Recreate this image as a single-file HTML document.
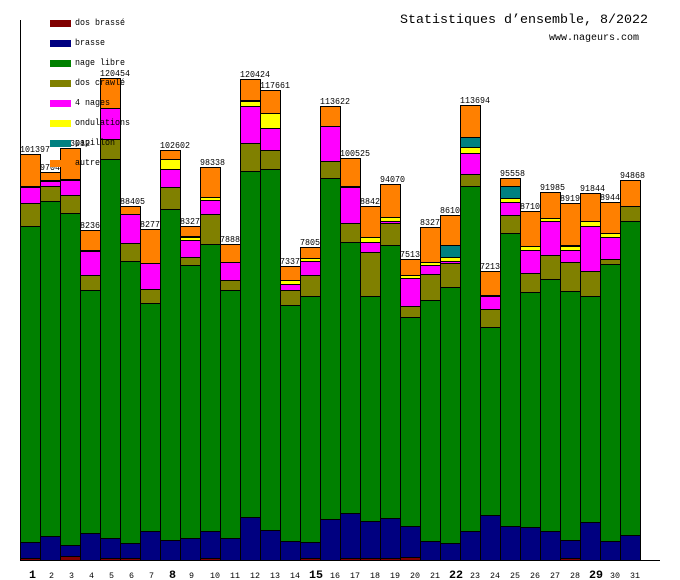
<!DOCTYPE html>
<html><head><meta charset="utf-8"><style>
html,body{margin:0;padding:0;background:#fff;}
svg{display:block;}
text{font-family:"Liberation Mono",monospace;fill:#000;}
</style></head><body>
<svg width="680" height="580" viewBox="0 0 680 580" xmlns="http://www.w3.org/2000/svg">
<rect width="680" height="580" fill="#fff"/>
<!-- title -->
<text x="400" y="23" font-size="13" textLength="248" lengthAdjust="spacingAndGlyphs">Statistiques d’ensemble, 8/2022</text>
<text x="549" y="40" font-size="10" textLength="90" lengthAdjust="spacingAndGlyphs">www.nageurs.com</text>
<!-- value labels (drawn below bars) -->
<g font-size="9" lengthAdjust="spacingAndGlyphs">
<text x="20" y="152" textLength="30" lengthAdjust="spacingAndGlyphs">101397</text>
<text x="40" y="170" textLength="25" lengthAdjust="spacingAndGlyphs">97040</text>
<text x="60" y="146" textLength="30" lengthAdjust="spacingAndGlyphs">103012</text>
<text x="80" y="228" textLength="25" lengthAdjust="spacingAndGlyphs">82360</text>
<text x="100" y="76" textLength="30" lengthAdjust="spacingAndGlyphs">120454</text>
<text x="120" y="204" textLength="25" lengthAdjust="spacingAndGlyphs">88405</text>
<text x="140" y="227" textLength="25" lengthAdjust="spacingAndGlyphs">82770</text>
<text x="160" y="148" textLength="30" lengthAdjust="spacingAndGlyphs">102602</text>
<text x="180" y="224" textLength="25" lengthAdjust="spacingAndGlyphs">83270</text>
<text x="200" y="165" textLength="25" lengthAdjust="spacingAndGlyphs">98338</text>
<text x="220" y="242" textLength="25" lengthAdjust="spacingAndGlyphs">78880</text>
<text x="240" y="77" textLength="30" lengthAdjust="spacingAndGlyphs">120424</text>
<text x="260" y="88" textLength="30" lengthAdjust="spacingAndGlyphs">117661</text>
<text x="280" y="264" textLength="25" lengthAdjust="spacingAndGlyphs">73370</text>
<text x="300" y="245" textLength="25" lengthAdjust="spacingAndGlyphs">78050</text>
<text x="320" y="104" textLength="30" lengthAdjust="spacingAndGlyphs">113622</text>
<text x="340" y="156" textLength="30" lengthAdjust="spacingAndGlyphs">100525</text>
<text x="360" y="204" textLength="25" lengthAdjust="spacingAndGlyphs">88420</text>
<text x="380" y="182" textLength="25" lengthAdjust="spacingAndGlyphs">94070</text>
<text x="400" y="257" textLength="25" lengthAdjust="spacingAndGlyphs">75130</text>
<text x="420" y="225" textLength="25" lengthAdjust="spacingAndGlyphs">83270</text>
<text x="440" y="213" textLength="25" lengthAdjust="spacingAndGlyphs">86100</text>
<text x="460" y="103" textLength="30" lengthAdjust="spacingAndGlyphs">113694</text>
<text x="480" y="269" textLength="25" lengthAdjust="spacingAndGlyphs">72130</text>
<text x="500" y="176" textLength="25" lengthAdjust="spacingAndGlyphs">95558</text>
<text x="520" y="209" textLength="25" lengthAdjust="spacingAndGlyphs">87100</text>
<text x="540" y="190" textLength="25" lengthAdjust="spacingAndGlyphs">91985</text>
<text x="560" y="201" textLength="25" lengthAdjust="spacingAndGlyphs">89190</text>
<text x="580" y="191" textLength="25" lengthAdjust="spacingAndGlyphs">91844</text>
<text x="600" y="200" textLength="25" lengthAdjust="spacingAndGlyphs">89440</text>
<text x="620" y="178" textLength="25" lengthAdjust="spacingAndGlyphs">94868</text>
</g>
<!-- bars -->
<g stroke="#000" stroke-width="1" shape-rendering="crispEdges">
<!-- 1 -->
<rect x="20.5" y="154.5" width="20" height="32" fill="#ff8000"/>
<rect x="20.5" y="186.5" width="20" height="1" fill="#ffff00"/>
<rect x="20.5" y="187.5" width="20" height="16" fill="#ff00ff"/>
<rect x="20.5" y="203.5" width="20" height="23" fill="#808000"/>
<rect x="20.5" y="226.5" width="20" height="316" fill="#008000"/>
<rect x="20.5" y="542.5" width="20" height="16" fill="#000080"/>
<rect x="20.5" y="558.5" width="20" height="2" fill="#800000"/>
<!-- 2 -->
<rect x="40.5" y="172.5" width="20" height="8" fill="#ff8000"/>
<rect x="40.5" y="180.5" width="20" height="1" fill="#ffff00"/>
<rect x="40.5" y="181.5" width="20" height="5" fill="#ff00ff"/>
<rect x="40.5" y="186.5" width="20" height="15" fill="#808000"/>
<rect x="40.5" y="201.5" width="20" height="335" fill="#008000"/>
<rect x="40.5" y="536.5" width="20" height="24" fill="#000080"/>
<!-- 3 -->
<rect x="60.5" y="148.5" width="20" height="31" fill="#ff8000"/>
<rect x="60.5" y="179.5" width="20" height="1" fill="#ffff00"/>
<rect x="60.5" y="180.5" width="20" height="15" fill="#ff00ff"/>
<rect x="60.5" y="195.5" width="20" height="18" fill="#808000"/>
<rect x="60.5" y="213.5" width="20" height="332" fill="#008000"/>
<rect x="60.5" y="545.5" width="20" height="11" fill="#000080"/>
<rect x="60.5" y="556.5" width="20" height="4" fill="#800000"/>
<!-- 4 -->
<rect x="80.5" y="230.5" width="20" height="20" fill="#ff8000"/>
<rect x="80.5" y="250.5" width="20" height="1" fill="#ffff00"/>
<rect x="80.5" y="251.5" width="20" height="24" fill="#ff00ff"/>
<rect x="80.5" y="275.5" width="20" height="15" fill="#808000"/>
<rect x="80.5" y="290.5" width="20" height="243" fill="#008000"/>
<rect x="80.5" y="533.5" width="20" height="27" fill="#000080"/>
<!-- 5 -->
<rect x="100.5" y="78.5" width="20" height="30" fill="#ff8000"/>
<rect x="100.5" y="108.5" width="20" height="31" fill="#ff00ff"/>
<rect x="100.5" y="139.5" width="20" height="20" fill="#808000"/>
<rect x="100.5" y="159.5" width="20" height="379" fill="#008000"/>
<rect x="100.5" y="538.5" width="20" height="20" fill="#000080"/>
<rect x="100.5" y="558.5" width="20" height="2" fill="#800000"/>
<!-- 6 -->
<rect x="120.5" y="206.5" width="20" height="8" fill="#ff8000"/>
<rect x="120.5" y="214.5" width="20" height="29" fill="#ff00ff"/>
<rect x="120.5" y="243.5" width="20" height="18" fill="#808000"/>
<rect x="120.5" y="261.5" width="20" height="282" fill="#008000"/>
<rect x="120.5" y="543.5" width="20" height="15" fill="#000080"/>
<rect x="120.5" y="558.5" width="20" height="2" fill="#800000"/>
<!-- 7 -->
<rect x="140.5" y="229.5" width="20" height="34" fill="#ff8000"/>
<rect x="140.5" y="263.5" width="20" height="26" fill="#ff00ff"/>
<rect x="140.5" y="289.5" width="20" height="14" fill="#808000"/>
<rect x="140.5" y="303.5" width="20" height="228" fill="#008000"/>
<rect x="140.5" y="531.5" width="20" height="29" fill="#000080"/>
<!-- 8 -->
<rect x="160.5" y="150.5" width="20" height="9" fill="#ff8000"/>
<rect x="160.5" y="159.5" width="20" height="10" fill="#ffff00"/>
<rect x="160.5" y="169.5" width="20" height="18" fill="#ff00ff"/>
<rect x="160.5" y="187.5" width="20" height="22" fill="#808000"/>
<rect x="160.5" y="209.5" width="20" height="331" fill="#008000"/>
<rect x="160.5" y="540.5" width="20" height="20" fill="#000080"/>
<!-- 9 -->
<rect x="180.5" y="226.5" width="20" height="10" fill="#ff8000"/>
<rect x="180.5" y="236.5" width="20" height="1" fill="#008080"/>
<rect x="180.5" y="237.5" width="20" height="3" fill="#ffff00"/>
<rect x="180.5" y="240.5" width="20" height="17" fill="#ff00ff"/>
<rect x="180.5" y="257.5" width="20" height="8" fill="#808000"/>
<rect x="180.5" y="265.5" width="20" height="273" fill="#008000"/>
<rect x="180.5" y="538.5" width="20" height="22" fill="#000080"/>
<!-- 10 -->
<rect x="200.5" y="167.5" width="20" height="30" fill="#ff8000"/>
<rect x="200.5" y="197.5" width="20" height="3" fill="#ffff00"/>
<rect x="200.5" y="200.5" width="20" height="14" fill="#ff00ff"/>
<rect x="200.5" y="214.5" width="20" height="30" fill="#808000"/>
<rect x="200.5" y="244.5" width="20" height="287" fill="#008000"/>
<rect x="200.5" y="531.5" width="20" height="27" fill="#000080"/>
<rect x="200.5" y="558.5" width="20" height="2" fill="#800000"/>
<!-- 11 -->
<rect x="220.5" y="244.5" width="20" height="18" fill="#ff8000"/>
<rect x="220.5" y="262.5" width="20" height="18" fill="#ff00ff"/>
<rect x="220.5" y="280.5" width="20" height="10" fill="#808000"/>
<rect x="220.5" y="290.5" width="20" height="248" fill="#008000"/>
<rect x="220.5" y="538.5" width="20" height="22" fill="#000080"/>
<!-- 12 -->
<rect x="240.5" y="79.5" width="20" height="21" fill="#ff8000"/>
<rect x="240.5" y="100.5" width="20" height="1" fill="#008080"/>
<rect x="240.5" y="101.5" width="20" height="5" fill="#ffff00"/>
<rect x="240.5" y="106.5" width="20" height="37" fill="#ff00ff"/>
<rect x="240.5" y="143.5" width="20" height="28" fill="#808000"/>
<rect x="240.5" y="171.5" width="20" height="346" fill="#008000"/>
<rect x="240.5" y="517.5" width="20" height="43" fill="#000080"/>
<!-- 13 -->
<rect x="260.5" y="90.5" width="20" height="23" fill="#ff8000"/>
<rect x="260.5" y="113.5" width="20" height="15" fill="#ffff00"/>
<rect x="260.5" y="128.5" width="20" height="22" fill="#ff00ff"/>
<rect x="260.5" y="150.5" width="20" height="19" fill="#808000"/>
<rect x="260.5" y="169.5" width="20" height="361" fill="#008000"/>
<rect x="260.5" y="530.5" width="20" height="30" fill="#000080"/>
<!-- 14 -->
<rect x="280.5" y="266.5" width="20" height="14" fill="#ff8000"/>
<rect x="280.5" y="280.5" width="20" height="4" fill="#ffff00"/>
<rect x="280.5" y="284.5" width="20" height="6" fill="#ff00ff"/>
<rect x="280.5" y="290.5" width="20" height="15" fill="#808000"/>
<rect x="280.5" y="305.5" width="20" height="236" fill="#008000"/>
<rect x="280.5" y="541.5" width="20" height="19" fill="#000080"/>
<!-- 15 -->
<rect x="300.5" y="247.5" width="20" height="11" fill="#ff8000"/>
<rect x="300.5" y="258.5" width="20" height="3" fill="#ffff00"/>
<rect x="300.5" y="261.5" width="20" height="14" fill="#ff00ff"/>
<rect x="300.5" y="275.5" width="20" height="21" fill="#808000"/>
<rect x="300.5" y="296.5" width="20" height="246" fill="#008000"/>
<rect x="300.5" y="542.5" width="20" height="16" fill="#000080"/>
<rect x="300.5" y="558.5" width="20" height="2" fill="#800000"/>
<!-- 16 -->
<rect x="320.5" y="106.5" width="20" height="20" fill="#ff8000"/>
<rect x="320.5" y="126.5" width="20" height="35" fill="#ff00ff"/>
<rect x="320.5" y="161.5" width="20" height="17" fill="#808000"/>
<rect x="320.5" y="178.5" width="20" height="341" fill="#008000"/>
<rect x="320.5" y="519.5" width="20" height="41" fill="#000080"/>
<!-- 17 -->
<rect x="340.5" y="158.5" width="20" height="28" fill="#ff8000"/>
<rect x="340.5" y="186.5" width="20" height="1" fill="#ffff00"/>
<rect x="340.5" y="187.5" width="20" height="36" fill="#ff00ff"/>
<rect x="340.5" y="223.5" width="20" height="19" fill="#808000"/>
<rect x="340.5" y="242.5" width="20" height="271" fill="#008000"/>
<rect x="340.5" y="513.5" width="20" height="45" fill="#000080"/>
<rect x="340.5" y="558.5" width="20" height="2" fill="#800000"/>
<!-- 18 -->
<rect x="360.5" y="206.5" width="20" height="31" fill="#ff8000"/>
<rect x="360.5" y="237.5" width="20" height="5" fill="#ffff00"/>
<rect x="360.5" y="242.5" width="20" height="10" fill="#ff00ff"/>
<rect x="360.5" y="252.5" width="20" height="44" fill="#808000"/>
<rect x="360.5" y="296.5" width="20" height="225" fill="#008000"/>
<rect x="360.5" y="521.5" width="20" height="37" fill="#000080"/>
<rect x="360.5" y="558.5" width="20" height="2" fill="#800000"/>
<!-- 19 -->
<rect x="380.5" y="184.5" width="20" height="33" fill="#ff8000"/>
<rect x="380.5" y="217.5" width="20" height="4" fill="#ffff00"/>
<rect x="380.5" y="221.5" width="20" height="2" fill="#ff00ff"/>
<rect x="380.5" y="223.5" width="20" height="22" fill="#808000"/>
<rect x="380.5" y="245.5" width="20" height="273" fill="#008000"/>
<rect x="380.5" y="518.5" width="20" height="40" fill="#000080"/>
<rect x="380.5" y="558.5" width="20" height="2" fill="#800000"/>
<!-- 20 -->
<rect x="400.5" y="259.5" width="20" height="16" fill="#ff8000"/>
<rect x="400.5" y="275.5" width="20" height="3" fill="#ffff00"/>
<rect x="400.5" y="278.5" width="20" height="28" fill="#ff00ff"/>
<rect x="400.5" y="306.5" width="20" height="11" fill="#808000"/>
<rect x="400.5" y="317.5" width="20" height="209" fill="#008000"/>
<rect x="400.5" y="526.5" width="20" height="31" fill="#000080"/>
<rect x="400.5" y="557.5" width="20" height="3" fill="#800000"/>
<!-- 21 -->
<rect x="420.5" y="227.5" width="20" height="35" fill="#ff8000"/>
<rect x="420.5" y="262.5" width="20" height="3" fill="#ffff00"/>
<rect x="420.5" y="265.5" width="20" height="9" fill="#ff00ff"/>
<rect x="420.5" y="274.5" width="20" height="26" fill="#808000"/>
<rect x="420.5" y="300.5" width="20" height="241" fill="#008000"/>
<rect x="420.5" y="541.5" width="20" height="19" fill="#000080"/>
<!-- 22 -->
<rect x="440.5" y="215.5" width="20" height="30" fill="#ff8000"/>
<rect x="440.5" y="245.5" width="20" height="12" fill="#008080"/>
<rect x="440.5" y="257.5" width="20" height="4" fill="#ffff00"/>
<rect x="440.5" y="261.5" width="20" height="2" fill="#ff00ff"/>
<rect x="440.5" y="263.5" width="20" height="24" fill="#808000"/>
<rect x="440.5" y="287.5" width="20" height="256" fill="#008000"/>
<rect x="440.5" y="543.5" width="20" height="17" fill="#000080"/>
<!-- 23 -->
<rect x="460.5" y="105.5" width="20" height="32" fill="#ff8000"/>
<rect x="460.5" y="137.5" width="20" height="10" fill="#008080"/>
<rect x="460.5" y="147.5" width="20" height="6" fill="#ffff00"/>
<rect x="460.5" y="153.5" width="20" height="21" fill="#ff00ff"/>
<rect x="460.5" y="174.5" width="20" height="12" fill="#808000"/>
<rect x="460.5" y="186.5" width="20" height="345" fill="#008000"/>
<rect x="460.5" y="531.5" width="20" height="29" fill="#000080"/>
<!-- 24 -->
<rect x="480.5" y="271.5" width="20" height="24" fill="#ff8000"/>
<rect x="480.5" y="295.5" width="20" height="1" fill="#ffff00"/>
<rect x="480.5" y="296.5" width="20" height="13" fill="#ff00ff"/>
<rect x="480.5" y="309.5" width="20" height="18" fill="#808000"/>
<rect x="480.5" y="327.5" width="20" height="188" fill="#008000"/>
<rect x="480.5" y="515.5" width="20" height="45" fill="#000080"/>
<!-- 25 -->
<rect x="500.5" y="178.5" width="20" height="8" fill="#ff8000"/>
<rect x="500.5" y="186.5" width="20" height="12" fill="#008080"/>
<rect x="500.5" y="198.5" width="20" height="4" fill="#ffff00"/>
<rect x="500.5" y="202.5" width="20" height="13" fill="#ff00ff"/>
<rect x="500.5" y="215.5" width="20" height="18" fill="#808000"/>
<rect x="500.5" y="233.5" width="20" height="293" fill="#008000"/>
<rect x="500.5" y="526.5" width="20" height="34" fill="#000080"/>
<!-- 26 -->
<rect x="520.5" y="211.5" width="20" height="35" fill="#ff8000"/>
<rect x="520.5" y="246.5" width="20" height="4" fill="#ffff00"/>
<rect x="520.5" y="250.5" width="20" height="23" fill="#ff00ff"/>
<rect x="520.5" y="273.5" width="20" height="19" fill="#808000"/>
<rect x="520.5" y="292.5" width="20" height="235" fill="#008000"/>
<rect x="520.5" y="527.5" width="20" height="33" fill="#000080"/>
<!-- 27 -->
<rect x="540.5" y="192.5" width="20" height="26" fill="#ff8000"/>
<rect x="540.5" y="218.5" width="20" height="3" fill="#ffff00"/>
<rect x="540.5" y="221.5" width="20" height="34" fill="#ff00ff"/>
<rect x="540.5" y="255.5" width="20" height="24" fill="#808000"/>
<rect x="540.5" y="279.5" width="20" height="252" fill="#008000"/>
<rect x="540.5" y="531.5" width="20" height="29" fill="#000080"/>
<!-- 28 -->
<rect x="560.5" y="203.5" width="20" height="42" fill="#ff8000"/>
<rect x="560.5" y="245.5" width="20" height="1" fill="#008080"/>
<rect x="560.5" y="246.5" width="20" height="4" fill="#ffff00"/>
<rect x="560.5" y="250.5" width="20" height="12" fill="#ff00ff"/>
<rect x="560.5" y="262.5" width="20" height="29" fill="#808000"/>
<rect x="560.5" y="291.5" width="20" height="249" fill="#008000"/>
<rect x="560.5" y="540.5" width="20" height="18" fill="#000080"/>
<rect x="560.5" y="558.5" width="20" height="2" fill="#800000"/>
<!-- 29 -->
<rect x="580.5" y="193.5" width="20" height="28" fill="#ff8000"/>
<rect x="580.5" y="221.5" width="20" height="5" fill="#ffff00"/>
<rect x="580.5" y="226.5" width="20" height="45" fill="#ff00ff"/>
<rect x="580.5" y="271.5" width="20" height="25" fill="#808000"/>
<rect x="580.5" y="296.5" width="20" height="226" fill="#008000"/>
<rect x="580.5" y="522.5" width="20" height="38" fill="#000080"/>
<!-- 30 -->
<rect x="600.5" y="202.5" width="20" height="31" fill="#ff8000"/>
<rect x="600.5" y="233.5" width="20" height="4" fill="#ffff00"/>
<rect x="600.5" y="237.5" width="20" height="22" fill="#ff00ff"/>
<rect x="600.5" y="259.5" width="20" height="5" fill="#808000"/>
<rect x="600.5" y="264.5" width="20" height="277" fill="#008000"/>
<rect x="600.5" y="541.5" width="20" height="19" fill="#000080"/>
<!-- 31 -->
<rect x="620.5" y="180.5" width="20" height="26" fill="#ff8000"/>
<rect x="620.5" y="206.5" width="20" height="15" fill="#808000"/>
<rect x="620.5" y="221.5" width="20" height="314" fill="#008000"/>
<rect x="620.5" y="535.5" width="20" height="25" fill="#000080"/>
</g>
<!-- axes -->
<g stroke="#000" stroke-width="1" shape-rendering="crispEdges">
<line x1="20.5" y1="20" x2="20.5" y2="561"/>
<line x1="20" y1="560.5" x2="660" y2="560.5"/>
</g>
<!-- legend (on top) -->
<g shape-rendering="crispEdges">
<rect x="50" y="20" width="21" height="7" fill="#800000"/>
<rect x="50" y="40" width="21" height="7" fill="#000080"/>
<rect x="50" y="60" width="21" height="7" fill="#008000"/>
<rect x="50" y="80" width="21" height="7" fill="#808000"/>
<rect x="50" y="100" width="21" height="7" fill="#ff00ff"/>
<rect x="50" y="120" width="21" height="7" fill="#ffff00"/>
<rect x="50" y="140" width="21" height="7" fill="#008080"/>
<rect x="50" y="160" width="21" height="7" fill="#ff8000"/>
</g>
<g font-size="9">
<text x="75" y="25" textLength="50" lengthAdjust="spacingAndGlyphs">dos brassé</text>
<text x="75" y="45" textLength="30" lengthAdjust="spacingAndGlyphs">brasse</text>
<text x="75" y="65" textLength="50" lengthAdjust="spacingAndGlyphs">nage libre</text>
<text x="75" y="85" textLength="50" lengthAdjust="spacingAndGlyphs">dos crawlé</text>
<text x="75" y="105" textLength="35" lengthAdjust="spacingAndGlyphs">4 nages</text>
<text x="75" y="125" textLength="55" lengthAdjust="spacingAndGlyphs">ondulations</text>
<text x="75" y="145" textLength="40" lengthAdjust="spacingAndGlyphs">papillon</text>
<text x="75" y="165" textLength="25" lengthAdjust="spacingAndGlyphs">autre</text>
</g>
<!-- x labels -->
<g font-size="8">
<text x="49" y="578" textLength="5" lengthAdjust="spacingAndGlyphs">2</text>
<text x="69" y="578" textLength="5" lengthAdjust="spacingAndGlyphs">3</text>
<text x="89" y="578" textLength="5" lengthAdjust="spacingAndGlyphs">4</text>
<text x="109" y="578" textLength="5" lengthAdjust="spacingAndGlyphs">5</text>
<text x="129" y="578" textLength="5" lengthAdjust="spacingAndGlyphs">6</text>
<text x="149" y="578" textLength="5" lengthAdjust="spacingAndGlyphs">7</text>
<text x="189" y="578" textLength="5" lengthAdjust="spacingAndGlyphs">9</text>
<text x="210" y="578" textLength="10" lengthAdjust="spacingAndGlyphs">10</text>
<text x="230" y="578" textLength="10" lengthAdjust="spacingAndGlyphs">11</text>
<text x="250" y="578" textLength="10" lengthAdjust="spacingAndGlyphs">12</text>
<text x="270" y="578" textLength="10" lengthAdjust="spacingAndGlyphs">13</text>
<text x="290" y="578" textLength="10" lengthAdjust="spacingAndGlyphs">14</text>
<text x="330" y="578" textLength="10" lengthAdjust="spacingAndGlyphs">16</text>
<text x="350" y="578" textLength="10" lengthAdjust="spacingAndGlyphs">17</text>
<text x="370" y="578" textLength="10" lengthAdjust="spacingAndGlyphs">18</text>
<text x="390" y="578" textLength="10" lengthAdjust="spacingAndGlyphs">19</text>
<text x="410" y="578" textLength="10" lengthAdjust="spacingAndGlyphs">20</text>
<text x="430" y="578" textLength="10" lengthAdjust="spacingAndGlyphs">21</text>
<text x="470" y="578" textLength="10" lengthAdjust="spacingAndGlyphs">23</text>
<text x="490" y="578" textLength="10" lengthAdjust="spacingAndGlyphs">24</text>
<text x="510" y="578" textLength="10" lengthAdjust="spacingAndGlyphs">25</text>
<text x="530" y="578" textLength="10" lengthAdjust="spacingAndGlyphs">26</text>
<text x="550" y="578" textLength="10" lengthAdjust="spacingAndGlyphs">27</text>
<text x="570" y="578" textLength="10" lengthAdjust="spacingAndGlyphs">28</text>
<text x="610" y="578" textLength="10" lengthAdjust="spacingAndGlyphs">30</text>
<text x="630" y="578" textLength="10" lengthAdjust="spacingAndGlyphs">31</text>
</g>
<g font-size="11" font-weight="bold">
<text x="29" y="578" textLength="7" lengthAdjust="spacingAndGlyphs">1</text>
<text x="169" y="578" textLength="7" lengthAdjust="spacingAndGlyphs">8</text>
<text x="309" y="578" textLength="14" lengthAdjust="spacingAndGlyphs">15</text>
<text x="449" y="578" textLength="14" lengthAdjust="spacingAndGlyphs">22</text>
<text x="589" y="578" textLength="14" lengthAdjust="spacingAndGlyphs">29</text>
</g>
</svg>
</body></html>
